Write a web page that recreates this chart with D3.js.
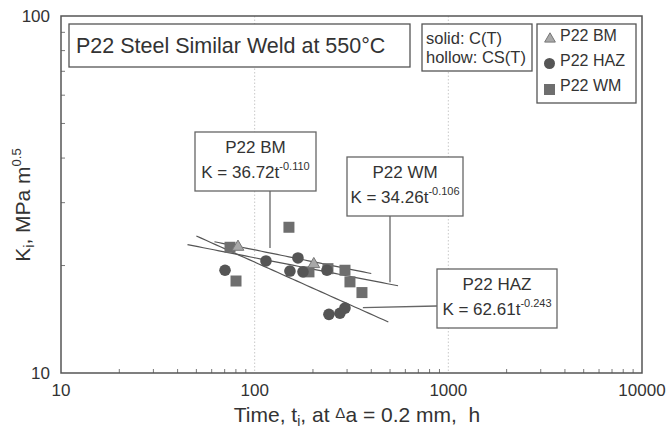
<!DOCTYPE html>
<html>
<head>
<meta charset="utf-8">
<script src="https://cdn.jsdelivr.net/npm/d3@7"></script>
<style>
  body { margin: 0; background: #fff; }
  svg { display: block; font-family: "Liberation Sans", Arial, sans-serif; }
</style>
</head>
<body>
<svg id="chart" width="667" height="437"></svg>
<script>
'use strict';

// time to crack initiation (h) and Ki (MPa m^0.5)
const bmT = [82, 202];
const bmK = [22.7, 20.3];

const hazT = [70.3, 114.4, 167.3, 152.1, 177.6, 236.2, 241.8, 275.6, 292.6];
const hazK = [19.4, 20.6, 21.0, 19.3, 19.2, 19.4, 14.6, 14.7, 15.2];

const wmT = [74.6, 80.1, 150.3, 190.7, 239, 292.6, 310.5, 358.1];
const wmK = [22.5, 18.1, 25.6, 19.2, 19.6, 19.4, 18.0, 16.8];

// power law fits K = a * t^b, drawn over [t0, t1]
const fitNames = ['P22 BM', 'P22 HAZ', 'P22 WM'];
const fitA = [36.72, 62.61, 34.26];
const fitB = [-0.110, -0.243, -0.106];
const fitT0 = [62, 50, 45];
const fitT1 = [400, 490, 550];

const xTicks = [10, 100, 1000, 10000];
const yTicks = [10, 100];

const svg = d3.select('#chart');
const W = 667, H = 437;
const m = {left: 61, right: 25, top: 16, bottom: 64};
const iw = W - m.left - m.right;
const ih = H - m.top - m.bottom;

const x = d3.scaleLog().domain([10, 10000]).range([m.left, m.left + iw]);
const y = d3.scaleLog().domain([10, 100]).range([m.top + ih, m.top]);

const axisCol = '#555';
const textCol = '#333';

// dotted gridlines at 100 and 1000
svg.append('g').selectAll('line')
    .data([100, 1000])
    .join('line')
    .attr('x1', d => x(d)).attr('x2', d => x(d))
    .attr('y1', m.top).attr('y2', m.top + ih)
    .attr('stroke', '#bbb')
    .attr('stroke-width', 0.8)
    .attr('stroke-dasharray', '1.5,2');

// minor ticks (pointing inward)
var xMinor = [];
for (var dec = 10; dec < 10000; dec *= 10) {
    for (var k = 2; k <= 9; ++k) xMinor.push(dec * k);
}
svg.append('g').selectAll('line')
    .data(xMinor)
    .join('line')
    .attr('x1', d => x(d)).attr('x2', d => x(d))
    .attr('y1', m.top + ih).attr('y2', m.top + ih - 4)
    .attr('stroke', axisCol).attr('stroke-width', 0.8);

var yMinor = [];
for (var j = 2; j <= 9; ++j) yMinor.push(10 * j);
svg.append('g').selectAll('line')
    .data(yMinor)
    .join('line')
    .attr('x1', m.left).attr('x2', m.left + 4)
    .attr('y1', d => y(d)).attr('y2', d => y(d))
    .attr('stroke', axisCol).attr('stroke-width', 0.8);

// frame
svg.append('rect')
    .attr('x', m.left).attr('y', m.top)
    .attr('width', iw).attr('height', ih)
    .attr('fill', 'none')
    .attr('stroke', axisCol)
    .attr('stroke-width', 1.5);

// tick labels
svg.append('g').selectAll('text')
    .data(xTicks)
    .join('text')
    .attr('x', d => x(d))
    .attr('y', m.top + ih + 23)
    .attr('text-anchor', 'middle')
    .attr('font-size', 17)
    .attr('fill', textCol)
    .text(d => d);

svg.append('g').selectAll('text')
    .data(yTicks)
    .join('text')
    .attr('x', m.left - 11)
    .attr('y', d => y(d) + 6)
    .attr('text-anchor', 'end')
    .attr('font-size', 17)
    .attr('fill', textCol)
    .text(d => d);

// axis titles
var xt = svg.append('text')
    .attr('x', 357)
    .attr('y', 422)
    .attr('text-anchor', 'middle')
    .attr('font-size', 21)
    .attr('fill', textCol);
xt.append('tspan').text('Time, t');
xt.append('tspan').attr('font-size', 14).attr('dy', 4).text('i');
xt.append('tspan').attr('dy', -4).text(', at ');
xt.append('tspan').attr('font-size', 15).attr('dy', -4).text('\u0394');
xt.append('tspan').attr('dy', 4).text('a = 0.2 mm,\u00a0 h');

var yt = svg.append('text')
    .attr('transform', 'translate(30,205) rotate(-90)')
    .attr('text-anchor', 'middle')
    .attr('font-size', 21)
    .attr('fill', textCol);
yt.append('tspan').text('K');
yt.append('tspan').attr('font-size', 14).attr('dy', 4).text('i');
yt.append('tspan').attr('dy', -4).text(', MPa m');
yt.append('tspan').attr('font-size', 13).attr('dy', -9).text('0.5');

// fit lines
const line = d3.line().x(d => x(d[0])).y(d => y(d[1]));
fitA.forEach(function(a, i) {
    var pts = [];
    var n = 40;
    for (var s = 0; s <= n; ++s) {
        var t = fitT0[i] * Math.pow(fitT1[i] / fitT0[i], s / n);
        pts.push([t, a * Math.pow(t, fitB[i])]);
    }
    svg.append('path')
        .attr('d', line(pts))
        .attr('fill', 'none')
        .attr('stroke', '#555')
        .attr('stroke-width', 1.2);
});

// markers
const sq = 11, cr = 5.8;
svg.append('g').selectAll('rect')
    .data(d3.zip(wmT, wmK))
    .join('rect')
    .attr('x', d => x(d[0]) - sq / 2)
    .attr('y', d => y(d[1]) - sq / 2)
    .attr('width', sq).attr('height', sq)
    .attr('fill', '#6e6e6e');

svg.append('g').selectAll('circle')
    .data(d3.zip(hazT, hazK))
    .join('circle')
    .attr('cx', d => x(d[0]))
    .attr('cy', d => y(d[1]))
    .attr('r', cr)
    .attr('fill', '#555');

const tri = d3.symbol().type(d3.symbolTriangle).size(60);
svg.append('g').selectAll('path')
    .data(d3.zip(bmT, bmK))
    .join('path')
    .attr('d', tri)
    .attr('transform', d => 'translate(' + x(d[0]) + ',' + (y(d[1]) + 1) + ')')
    .attr('fill', '#a8a8a8')
    .attr('stroke', '#777')
    .attr('stroke-width', 1);

// annotation boxes with leader lines
function fitK(i, t) { return fitA[i] * Math.pow(t, fitB[i]); }

function eqBox(i, bx, by, bw, bh) {
    var g = svg.append('g');
    g.append('rect')
        .attr('x', bx).attr('y', by).attr('width', bw).attr('height', bh)
        .attr('fill', '#fff').attr('stroke', '#666').attr('stroke-width', 1.3);
    g.append('text')
        .attr('x', bx + bw / 2).attr('y', by + 21)
        .attr('text-anchor', 'middle').attr('font-size', 17).attr('fill', textCol)
        .text(fitNames[i]);
    var eq = g.append('text')
        .attr('x', bx + bw / 2).attr('y', by + 46)
        .attr('text-anchor', 'middle').attr('font-size', 17).attr('fill', textCol);
    eq.append('tspan').text('K = ' + fitA[i].toFixed(2) + 't');
    eq.append('tspan').attr('font-size', 11).attr('dy', -8).text(fitB[i].toFixed(3));
}

function leader(x1, y1, x2, y2) {
    svg.append('line')
        .attr('x1', x1).attr('y1', y1).attr('x2', x2).attr('y2', y2)
        .attr('stroke', '#666').attr('stroke-width', 1.3);
}

// BM
leader(270, 191, 270, y(fitK(0, x.invert(270))) - 5);
eqBox(0, 195, 132, 121, 59);
// WM
leader(390, 216, 390, y(fitK(2, x.invert(390))) - 2);
eqBox(2, 347, 157, 116, 59);
// HAZ
leader(x(362), y(fitK(1, 362)) - 3, 437, 306);
eqBox(1, 437, 269, 120, 59);

// title box
svg.append('rect')
    .attr('x', 69).attr('y', 24).attr('width', 341).attr('height', 43)
    .attr('fill', '#fff').attr('stroke', '#555').attr('stroke-width', 1.3);
svg.append('text')
    .attr('x', 76).attr('y', 53)
    .attr('font-size', 21.5).attr('fill', textCol)
    .text('P22 Steel Similar Weld at 550\u00b0C');

// specimen type note
svg.append('rect')
    .attr('x', 422).attr('y', 24).attr('width', 110).attr('height', 47)
    .attr('fill', '#fff').attr('stroke', '#555').attr('stroke-width', 1.3);
svg.append('text').attr('x', 426).attr('y', 44)
    .attr('font-size', 16.5).attr('fill', textCol).text('solid: C(T)');
svg.append('text').attr('x', 426).attr('y', 63)
    .attr('font-size', 16.5).attr('fill', textCol).text('hollow: CS(T)');

// legend
const lg = svg.append('g');
lg.append('rect')
    .attr('x', 537).attr('y', 24).attr('width', 99).attr('height', 79)
    .attr('fill', '#fff').attr('stroke', '#555').attr('stroke-width', 1.3);
lg.append('path')
    .attr('d', d3.symbol().type(d3.symbolTriangle).size(50))
    .attr('transform', 'translate(550,39)')
    .attr('fill', '#a8a8a8').attr('stroke', '#777');
lg.append('circle').attr('cx', 549.5).attr('cy', 63.5).attr('r', 5.5).attr('fill', '#555');
lg.append('rect').attr('x', 544).attr('y', 84).attr('width', 11).attr('height', 11).attr('fill', '#6e6e6e');
lg.selectAll('text.lab')
    .data(fitNames)
    .join('text')
    .attr('class', 'lab')
    .attr('x', 560)
    .attr('y', (d, i) => 41 + i * 25)
    .attr('font-size', 16)
    .attr('fill', textCol)
    .text(d => d);
</script>
</body>
</html>
